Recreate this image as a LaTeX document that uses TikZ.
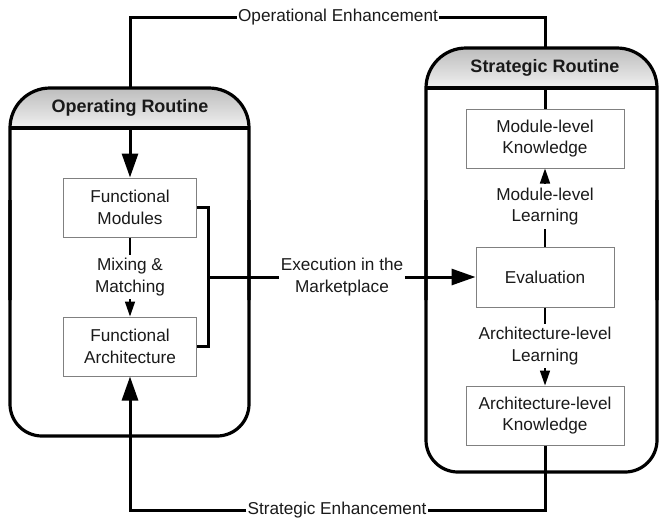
\documentclass[tikz,border=0pt]{standalone}
\usepackage{fontspec}
\setmainfont{Liberation Sans}
\usetikzlibrary{arrows.meta}
\definecolor{ink}{HTML}{1A1A1A}
\definecolor{boxline}{HTML}{808080}
\definecolor{headtop}{HTML}{BDBDBD}
\definecolor{headbot}{HTML}{F0F0F0}

\begin{document}
\begin{tikzpicture}[x=1pt,y=-1pt,
  every node/.style={font=\fontsize{17.2}{21.5}\selectfont, text=ink, align=center},
  stepbox/.style={draw=boxline, line width=1pt, fill=white, inner sep=0pt},
  heading/.style={font=\fontsize{18}{21}\selectfont\bfseries, inner sep=0pt, minimum height=40pt},
  frame/.style={line width=3.2pt, draw=black},
  conn/.style={line width=3pt, draw=black},
  bigtip/.style={-{Triangle[length=24pt,width=16pt]}},
  thinconn/.style={line width=1.6pt, draw=black},
  smalltip/.style={-{Triangle[length=15pt,width=10pt]}},
  lbl/.style={fill=white, inner xsep=1pt, inner ysep=3.5pt},
  % header band: darker grey at the top, fading to near white
  headshade/.style={top color=headtop, bottom color=headbot},
]
\useasboundingbox (0,0) rectangle (660,520);

% ---- Operating routine container ----
\begin{scope}
  \clip[rounded corners=40pt] (10,88) rectangle (249,436);
  \shade[headshade] (10,88) rectangle (249,128);
\end{scope}
\node[heading] (Lhead) at (130,108) {Operating Routine};
\draw[frame, rounded corners=40pt] (10,300) -- (10,88) -- (249,88) -- (249,300);
\draw[frame, rounded corners=32pt] (10,200) -- (10,436) -- (249,436) -- (249,200);
\draw[frame] (10,128) -- (249,128);

% ---- Strategic routine container ----
\begin{scope}
  \clip[rounded corners=40pt] (426,48) rectangle (657,472);
  \shade[headshade] (426,48) rectangle (657,88);
\end{scope}
\node[heading] (Rhead) at (545,68) {Strategic Routine};
\draw[frame, rounded corners=40pt] (426,300) -- (426,48) -- (657,48) -- (657,300);
\draw[frame, rounded corners=32pt] (426,200) -- (426,472) -- (657,472) -- (657,200);
\draw[frame] (426,88) -- (657,88);

% ---- boxes ----
\node[stepbox, minimum width=133pt, minimum height=59pt] (FM) at (130,207.5) {Functional\\Modules};
\node[stepbox, minimum width=133pt, minimum height=59pt] (FA) at (130,346.5) {Functional\\Architecture};
\node[stepbox, minimum width=158pt, minimum height=59pt] (MK) at (545,138.5) {Module-level\\Knowledge};
\node[stepbox, minimum width=138pt, minimum height=60pt] (EV) at (545,277) {Evaluation};
\node[stepbox, minimum width=158pt, minimum height=59pt] (AK) at (545,415.5) {Architecture-level\\Knowledge};

% ---- labels on connectors ----
\node[lbl] (mix) at (130,277) {Mixing \&\\Matching};
\node[lbl] (mll) at (545,206.5) {Module-level\\Learning};
\node[lbl] (all) at (545,346) {Architecture-level\\Learning};
\node[lbl, inner xsep=1.5pt] (exl) at (342,277) {Execution in the\\Marketplace};
\node[lbl] (opl) at (338,17) {Operational Enhancement};
\node[lbl] (stl) at (337,510) {Strategic Enhancement};
\coordinate (brk) at (208,277);

% ---- connectors ----
\draw[conn] (Lhead.north |- 0,88) |- (opl) -| (Rhead.north |- 0,48);
\draw[conn, bigtip] (Lhead.south |- 0,128) -- (FM.north);
\draw[conn] (Rhead.south |- 0,88) -- (MK.north);
\draw[conn] (FM.east) -| (brk) |- (FA.east);
\draw[conn] (brk) -- (exl);
\draw[conn, bigtip] (exl) -- (EV);
\draw[conn, bigtip] (AK.south) |- (stl) -| (FA.south);

\draw[thinconn, smalltip] (FM.south) -- (mix) -- (FA.north);
\draw[thinconn, smalltip] (EV.north) -- (mll) -- (MK.south);
\draw[thinconn, smalltip] (EV.south) -- (all) -- (AK.north);
\end{tikzpicture}
\end{document}
